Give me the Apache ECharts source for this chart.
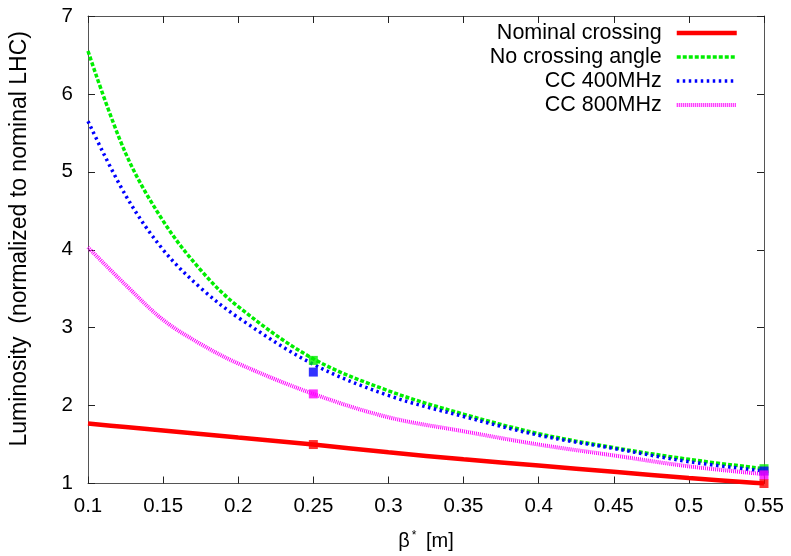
<!DOCTYPE html>
<html>
<head>
<meta charset="utf-8">
<script src="https://cdn.jsdelivr.net/npm/echarts@6/dist/echarts.min.js"></script>
<style>
  html, body { margin: 0; padding: 0; background: #fff; }
  #chart { width: 791px; height: 556px; }
</style>
</head>
<body>
<div id="chart"></div>
<script>
// beta* grid [m]
const betaStar = [0.1, 0.125, 0.15, 0.175, 0.2, 0.25, 0.3, 0.35, 0.4, 0.45, 0.5, 0.55];

// luminosity normalized to nominal LHC
const nominalCrossing = [1.77, 1.725, 1.68, 1.635, 1.59, 1.50, 1.40, 1.31, 1.23, 1.15, 1.07, 1.00];
const noCrossingAngle = [6.55, 5.24, 4.37, 3.74, 3.27, 2.60, 2.19, 1.89, 1.64, 1.46, 1.31, 1.19];
const cc400MHz        = [5.65, 4.70, 4.00, 3.51, 3.13, 2.53, 2.13, 1.86, 1.62, 1.45, 1.28, 1.16];
const cc800MHz        = [4.03, 3.55, 3.10, 2.79, 2.54, 2.15, 1.85, 1.67, 1.50, 1.36, 1.22, 1.12];

// computed working points
const pointBeta   = [0.25, 0.55];
const nominalPts  = [1.50, 1.00];
const noCrossPts  = [2.58, 1.19];
const cc400Pts    = [2.43, 1.16];
const cc800Pts    = [2.15, 1.11];

const seriesNames = ['Nominal crossing', 'No crossing angle', 'CC 400MHz', 'CC 800MHz'];
const colors = ['#ff0000', '#00ee00', '#0000ff', '#ff00ff'];

const xTicks = { min: 0.1, max: 0.55, interval: 0.05 };
const yTicks = { min: 1, max: 7, interval: 1 };

const font = 'Liberation Sans, Arial, sans-serif';

function pairs(xs, ys) { return xs.map((x, i) => [x, ys[i]]); }

const lineStyles = [
  { width: 4.5, type: 'solid' },
  { width: 3.5, type: [4, 2] },
  { width: 3.5, type: [2.5, 3.5] },
  { width: 4, type: [1, 1] }
];
const curves = [nominalCrossing, noCrossingAngle, cc400MHz, cc800MHz];
const points = [nominalPts, noCrossPts, cc400Pts, cc800Pts];

const series = [];
curves.forEach((vals, i) => {
  series.push({
    name: seriesNames[i],
    type: 'line',
    xAxisIndex: 0, yAxisIndex: 0,
    data: pairs(betaStar, vals),
    smooth: 0.35,
    symbol: 'none',
    color: colors[i],
    lineStyle: Object.assign({ color: colors[i], cap: 'butt' }, lineStyles[i]),
    z: 2 + i
  });
});
points.forEach((vals, i) => {
  series.push({
    name: seriesNames[i] + ' pts',
    type: 'scatter',
    xAxisIndex: 0, yAxisIndex: 0,
    data: pairs(pointBeta, vals),
    symbol: 'rect',
    symbolSize: 9,
    itemStyle: { color: colors[i] },
    z: 10 + i,
    silent: true
  });
});

const legendData = seriesNames.map((name, i) => ({
  name: name,
  lineStyle: Object.assign({ color: colors[i], cap: 'butt' }, lineStyles[i])
}));

const axisLineStyle = { color: '#555', width: 1 };
const tickStyle = { show: true, inside: true, length: 7, lineStyle: { color: '#222', width: 1 } };

const option = {
  animation: false,
  backgroundColor: '#fff',
  grid: { left: 86, right: 27, top: 16, bottom: 72, containLabel: false },
  legend: {
    orient: 'vertical',
    right: 52,
    top: 22,
    padding: 0,
    align: 'right',
    itemWidth: 60,
    itemHeight: 14,
    itemGap: 2,
    data: legendData,
    itemStyle: { opacity: 0 },
    textStyle: { fontFamily: font, fontSize: 21.5, color: '#000', lineHeight: 21, padding: [0, 10, 0, 0] }
  },
  xAxis: [
    {
      type: 'value', position: 'bottom',
      min: xTicks.min, max: xTicks.max, interval: xTicks.interval,
      name: 'β{sup|*} [m]',
      nameLocation: 'middle', nameGap: 46,
      nameTextStyle: {
        fontFamily: font, fontSize: 20, color: '#000',
        rich: { sup: { fontFamily: font, fontSize: 12, color: '#000', verticalAlign: 'top', padding: [0, 4, 11, 2] } }
      },
      axisLine: { show: true, lineStyle: axisLineStyle },
      axisTick: tickStyle,
      splitLine: { show: false },
      axisLabel: {
        fontFamily: font, fontSize: 20.5, color: '#000', margin: 12,
        formatter: v => String(+v.toFixed(2))
      }
    },
    {
      type: 'value', position: 'top',
      min: xTicks.min, max: xTicks.max, interval: xTicks.interval,
      axisLine: { show: true, lineStyle: axisLineStyle },
      axisTick: tickStyle,
      splitLine: { show: false },
      axisLabel: { show: false }
    }
  ],
  yAxis: [
    {
      type: 'value', position: 'left',
      min: yTicks.min, max: yTicks.max, interval: yTicks.interval,
      name: 'Luminosity  (normalized to nominal LHC)',
      nameLocation: 'middle', nameGap: 57,
      nameTextStyle: { fontFamily: font, fontSize: 23, color: '#000', padding: [0, 0, 0, 22] },
      axisLine: { show: true, lineStyle: axisLineStyle },
      axisTick: tickStyle,
      splitLine: { show: false },
      axisLabel: { fontFamily: font, fontSize: 20.5, color: '#000', margin: 15 }
    },
    {
      type: 'value', position: 'right',
      min: yTicks.min, max: yTicks.max, interval: yTicks.interval,
      axisLine: { show: true, lineStyle: axisLineStyle },
      axisTick: tickStyle,
      splitLine: { show: false },
      axisLabel: { show: false }
    }
  ],
  series: series
};

const chart = echarts.init(document.getElementById('chart'), null, { renderer: 'canvas' });
chart.setOption(option);
</script>
</body>
</html>
